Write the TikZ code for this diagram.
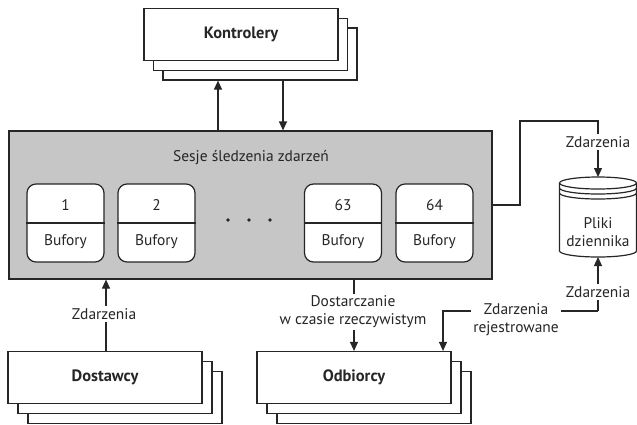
\documentclass[tikz,border=0pt]{standalone}
\usepackage{fontspec}
\setmainfont{PT Sans}
\usetikzlibrary{arrows.meta}
\definecolor{ln}{HTML}{262626}
\definecolor{gr}{HTML}{C6C6C6}
\begin{document}
\begin{tikzpicture}[x=1bp,y=-1bp,
  every node/.style={font=\fontsize{15.5}{18}\selectfont, text=ln},
  wire/.style={draw=ln, line width=1.2bp},
  arr/.style={wire, -{Triangle[width=8bp,length=9bp]}},
  stackbox/.style={draw=ln, line width=1.2bp, fill=white, minimum width=194bp, minimum height=52bp, inner sep=0pt},
  session/.style={draw=ln, line width=1.2bp, fill=gr, minimum width=483bp, minimum height=148bp, inner sep=0pt},
  buf/.style={draw=ln, line width=1.2bp, fill=white, rounded corners=9bp, minimum width=77bp, minimum height=78bp, inner sep=0pt},
  lbl/.style={fill=white, inner sep=2bp, align=center},
  boldlbl/.style={font=\fontsize{16.5}{18}\selectfont\bfseries}]
\useasboundingbox (0,0) rectangle (637,424);
% Kontrolery
\node[stackbox] (k3) at (260,54) {};
\node[stackbox] (k2) at (250.5,44.5) {};
\node[stackbox, boldlbl] (k1) at (241,34.5) {Kontrolery};
% Dostawcy
\node[stackbox] (d3) at (125,397.5) {};
\node[stackbox] (d2) at (115,387.5) {};
\node[stackbox, boldlbl] (d1) at (105,377.5) {Dostawcy};
% Odbiorcy
\node[stackbox] (o3) at (374,397.5) {};
\node[stackbox] (o2) at (364,387.5) {};
\node[stackbox, boldlbl] (o1) at (354,377.5) {Odbiorcy};
% Sesje
\node[session] (ses) at (250.5,205) {};
\node (title) at (251,158) {Sesje śledzenia zdarzeń};
% buffers
\foreach \n/\x/\t in {b1/65.5/1, b2/156.5/2, b63/343/63, b64/434.5/64}{
  \node[buf] (\n) at (\x,223) {};
  \draw[wire] (\n.west) -- (\n.east);
  \node (\n num) at (\x,205) {\t};
  \node (\n lab) at (\x,242) {Bufory};
}
\foreach \x in {228,249,270}{\fill[ln] (\x,220) circle[radius=1.8];}
% cylinder
\coordinate (logtop) at (598,177);
\coordinate (logbot) at (598,257);
\draw[wire, fill=white] (559.5,183) -- (559.5,251) arc[start angle=180, end angle=0, x radius=38.5, y radius=6] -- (636.5,183);
\draw[wire] (598,183) ellipse [x radius=38.5, y radius=6];
\draw[wire] (559.5,188) arc[start angle=180, end angle=0, x radius=38.5, y radius=6];
\draw[wire] (559.5,193) arc[start angle=180, end angle=0, x radius=38.5, y radius=6];
\node[align=center] (logtxt) at (598,232) {Pliki\\dziennika};
% connectors
\coordinate (kux) at (218,0);
\coordinate (kdx) at (283,0);
\draw[arr] (kux |- ses.north) -- (kux |- k3.south);
\draw[arr] (kdx |- k3.south) -- (kdx |- ses.north);
\coordinate (dux) at (106,0);
\draw[arr] (dux |- d1.north) -- (dux |- ses.south);
\node[lbl] (ldost) at (104,314) {Zdarzenia};
\coordinate (rtx) at (354,0);
\draw[arr] (rtx |- ses.south) -- (rtx |- o1.north);
\node[lbl] (lrt) at (353,312) {Dostarczanie\\w czasie rzeczywistym};
\coordinate (c1) at (520,121);
\draw[arr] (ses.east) -| (c1) -| (logtop);
\node[lbl] (ltop) at (598,142) {Zdarzenia};
\coordinate (c2) at (598,311);
\coordinate (orx) at (443,0);
\draw[arr] (c2) -- (logbot);
\draw[arr] (c2) -| (orx |- o1.north);
\node[lbl] (lbot) at (598,292) {Zdarzenia};
\node[lbl] (lrej) at (516,320) {Zdarzenia\\rejestrowane};
\end{tikzpicture}
\end{document}
